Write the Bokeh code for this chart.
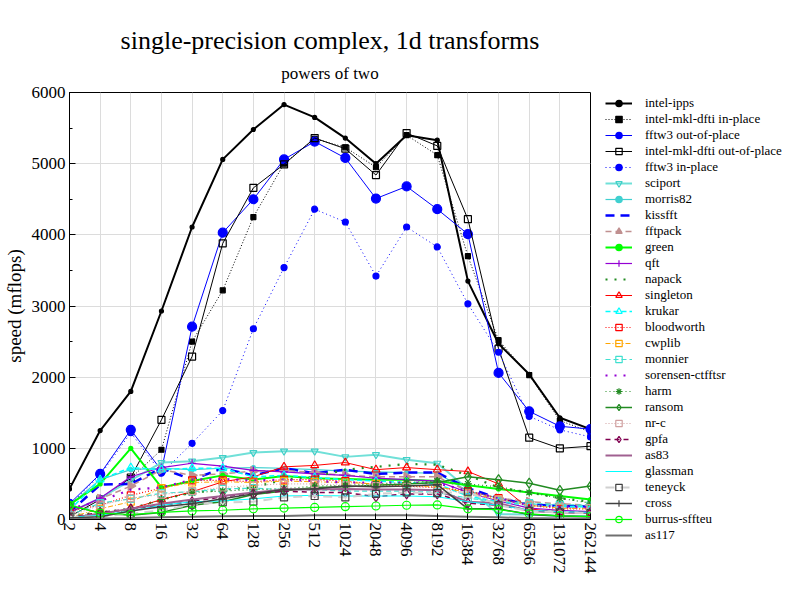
import math
from bokeh.plotting import figure
from bokeh.models import (Title, Legend, LegendItem, FixedTicker,
                          SingleIntervalTicker, PrintfTickFormatter, Range1d)
from bokeh.embed import file_html
from bokeh.resources import INLINE

# ---------------- data ----------------
sizes = [2, 4, 8, 16, 32, 64, 128, 256, 512, 1024, 2048, 4096, 8192,
         16384, 32768, 65536, 131072, 262144]

intel_ipps = [430, 1250, 1800, 2930, 4110, 5060, 5480, 5830, 5650, 5360, 5000, 5400, 5330, 3350, 2470, 2040, 1430, 1270]
mkl_inplace = [80, 300, 580, 980, 2500, 3220, 4250, 5000, 5350, 5230, 4950, 5400, 5120, 3700, 2520, 2030, 1390, 1230]
fftw3_out = [220, 640, 1260, 690, 2710, 4030, 4500, 5060, 5310, 5080, 4510, 4680, 4360, 4010, 2060, 1520, 1310, 1270]
mkl_outplace = [40, 280, 590, 1400, 2290, 3880, 4660, 4990, 5360, 5210, 4840, 5430, 5250, 4220, 2400, 1150, 1000, 1030]
fftw3_in = [200, 620, 1220, 650, 1070, 1530, 2680, 3540, 4360, 4180, 3420, 4110, 3830, 3030, 2350, 1450, 1260, 1160]
sciport = [100, 300, 550, 800, 820, 870, 940, 960, 960, 880, 910, 840, 790, 430, 75, 70, 50, 50]
morris82 = [200, 560, 700, 720, 700, 720, 730, 720, 700, 680, 670, 660, 650, 400, 300, 220, 200, 190]
kissfft = [100, 490, 500, 720, 560, 720, 620, 720, 650, 700, 640, 660, 660, 440, 300, 210, 190, 180]
fftpack = [100, 290, 470, 700, 620, 640, 680, 690, 660, 620, 600, 600, 600, 400, 300, 250, 220, 200]
green = [210, 500, 1000, 450, 540, 620, 560, 610, 580, 570, 560, 560, 540, 480, 430, 380, 330, 280]
qft = [100, 300, 600, 730, 790, 750, 690, 670, 640, 620, 580, 560, 540, 380, 260, 160, 130, 110]
napack = [50, 100, 150, 280, 380, 420, 450, 560, 600, 700, 740, 780, 770, 620, 450, 380, 300, 250]
singleton = [30, 80, 150, 280, 390, 530, 600, 740, 760, 800, 700, 730, 700, 675, 500, 150, 100, 90]
krukar = [130, 560, 730, 700, 720, 720, 600, 620, 590, 560, 540, 520, 500, 330, 250, 200, 180, 180]
bloodworth = [120, 200, 340, 440, 550, 550, 530, 560, 560, 540, 490, 470, 450, 400, 300, 200, 150, 150]
cwplib = [30, 150, 250, 440, 520, 530, 520, 540, 530, 520, 500, 480, 460, 380, 280, 200, 160, 150]
monnier = [60, 230, 290, 370, 390, 430, 440, 420, 420, 400, 400, 400, 380, 300, 250, 230, 210, 200]
sorensen = [150, 260, 420, 450, 560, 570, 550, 560, 540, 520, 520, 520, 510, 400, 300, 200, 180, 170]
harm = [50, 80, 130, 280, 380, 400, 420, 430, 470, 480, 500, 520, 540, 500, 460, 380, 300, 230]
ransom = [200, 90, 60, 100, 200, 250, 350, 400, 450, 460, 480, 500, 520, 600, 560, 510, 410, 470]
nr_c = [50, 200, 300, 350, 400, 450, 480, 500, 500, 480, 470, 460, 450, 350, 280, 200, 170, 160]
gpfa = [30, 100, 150, 200, 250, 320, 360, 400, 380, 380, 320, 360, 360, 230, 200, 130, 110, 100]
as83 = [20, 80, 150, 220, 280, 330, 380, 420, 420, 430, 420, 420, 410, 250, 230, 120, 100, 90]
glassman = [30, 60, 120, 200, 250, 260, 290, 330, 340, 330, 330, 330, 320, 250, 200, 130, 110, 100]
teneyck = [40, 40, 80, 130, 210, 240, 250, 310, 330, 310, 360, 380, 370, 390, 200, 120, 100, 90]
cross = [20, 40, 120, 180, 220, 290, 360, 420, 430, 470, 460, 470, 490, 150, 150, 70, 50, 40]
burrus = [200, 90, 70, 100, 120, 130, 150, 160, 170, 180, 190, 200, 205, 150, 140, 80, 50, 40]
as117 = [5, 15, 20, 30, 40, 45, 50, 50, 60, 60, 60, 60, 50, 40, 30, 20, 15, 15]

# (label, values, line color, line width, dash, marker, marker size, filled, marker color)
series = [
    ("intel-ipps", intel_ipps, "black", 2.0, "solid", "circle", 4, True, None),
    ("intel-mkl-dfti in-place", mkl_inplace, "black", 1.0, "1 2", "square", 5, True, None),
    ("fftw3 out-of-place", fftw3_out, "#0000ff", 1.0, "solid", "circle", 9, True, None),
    ("intel-mkl-dfti out-of-place", mkl_outplace, "black", 1.0, "solid", "square", 7, False, None),
    ("fftw3 in-place", fftw3_in, "#0000ff", 1.0, "1 3", "circle", 6, True, None),
    ("sciport", sciport, "#70e0d8", 2.0, "solid", "inverted_triangle", 7, False, "#40d0c8"),
    ("morris82", morris82, "#40d0d0", 1.2, "solid", "circle", 4, True, None),
    ("kissfft", kissfft, "#0000ff", 2.5, "9 6", None, 0, False, None),
    ("fftpack", fftpack, "#c09090", 1.5, "6 4", "triangle_r", 9, True, None),
    ("green", green, "#00ff00", 2.0, "solid", "circle", 4, True, None),
    ("qft", qft, "#9400d3", 1.2, "solid", "cross", 8, False, None),
    ("napack", napack, "#228b22", 2.2, "2 7", None, 0, False, None),
    ("singleton", singleton, "#ff0000", 1.0, "solid", "triangle", 8, False, None),
    ("krukar", krukar, "#00ffff", 1.5, "5 3", "triangle", 8, False, None),
    ("bloodworth", bloodworth, "#ff0000", 1.2, "1 2", "square", 7, False, None),
    ("cwplib", cwplib, "#ffa500", 1.0, "5 2 1 2", "square", 7, False, None),
    ("monnier", monnier, "#40e0d0", 1.2, "5 3", "square", 7, False, None),
    ("sorensen-ctfftsr", sorensen, "#9400d3", 2.2, "2 7", None, 0, False, None),
    ("harm", harm, "#228b22", 1.2, "1 3", "asterisk", 8, False, None),
    ("ransom", ransom, "#228b22", 1.5, "solid", "diamond", 10, False, None),
    ("nr-c", nr_c, "#d0a0a0", 1.0, "1 2", "square", 7, False, None),
    ("gpfa", gpfa, "#800050", 1.5, "5 4", "diamond", 10, False, None),
    ("as83", as83, "#a06090", 2.0, "solid", None, 0, False, None),
    ("glassman", glassman, "#00ffff", 1.0, "solid", None, 0, False, None),
    ("teneyck", teneyck, "#d0d0d0", 2.0, "9 6", "square", 7, False, "#404040"),
    ("cross", cross, "#404040", 1.5, "solid", "cross", 9, False, None),
    ("burrus-sffteu", burrus, "#00ff00", 1.2, "solid", "circle", 8, False, None),
    ("as117", as117, "#707070", 2.0, "solid", None, 0, False, None),
]

SERIF = "Liberation Serif"

p = figure(frame_width=521, frame_height=427,
           x_axis_type="log", x_range=Range1d(2, 262144), y_range=Range1d(0, 6000),
           output_backend="svg", toolbar_location=None, title=None,
           min_border_left=59, min_border_right=196, min_border_top=92, min_border_bottom=70)

p.background_fill_color = "white"
p.border_fill_color = "white"
p.outline_line_color = "black"
p.outline_line_width = 1
p.outline_line_alpha = 1

# titles (first added = closest to plot)
p.add_layout(Title(text="powers of two", align="center", text_font=SERIF,
                   text_font_size="17px", text_font_style="normal",
                   text_color="black", standoff=19), "above")
p.add_layout(Title(text="single-precision complex, 1d transforms", align="center",
                   text_font=SERIF, text_font_size="26px", text_font_style="normal",
                   text_color="black", standoff=-4), "above")

# axes
xa = p.xaxis[0]
xa.ticker = FixedTicker(ticks=sizes, minor_ticks=[])
xa.formatter = PrintfTickFormatter(format="%d")
xa.major_label_orientation = -math.pi / 2
xa.major_label_text_font = SERIF
xa.major_label_text_font_size = "17px"
xa.major_label_text_color = "black"
xa.major_label_standoff = 3
xa.major_tick_in = 6
xa.major_tick_out = 0
xa.axis_line_color = "black"
xa.major_tick_line_color = "black"

ya = p.yaxis[0]
ya.ticker = SingleIntervalTicker(interval=1000, num_minor_ticks=2)
ya.major_label_text_font = SERIF
ya.major_label_text_font_size = "17px"
ya.major_label_text_color = "black"
ya.major_label_standoff = 4
ya.major_tick_in = 6
ya.major_tick_out = 0
ya.minor_tick_in = 3
ya.minor_tick_out = 0
ya.axis_line_color = "black"
ya.major_tick_line_color = "black"
ya.minor_tick_line_color = "black"
ya.axis_label = "speed (mflops)"
ya.axis_label_text_font = SERIF
ya.axis_label_text_font_size = "19px"
ya.axis_label_text_font_style = "normal"
ya.axis_label_text_color = "black"
ya.axis_label_standoff = 4

p.xgrid.ticker = FixedTicker(ticks=sizes)
p.ygrid.ticker = SingleIntervalTicker(interval=1000)
p.xgrid.grid_line_color = "#dcdcdc"
p.ygrid.grid_line_color = "#dcdcdc"
p.xgrid.grid_line_width = 1
p.ygrid.grid_line_width = 1

items = []
for (label, vals, color, lw, dash, marker, msize, filled, mcolor) in series:
    rs = [p.line(sizes, vals, line_color=color, line_width=lw, line_dash=dash)]
    if marker is not None:
        mc = mcolor if mcolor else color
        kw = dict(size=msize, line_color=mc, line_width=1.2)
        kw["fill_color"] = mc if filled else None
        mk = marker
        if marker == "triangle_r":
            mk = "triangle"
            kw["angle"] = -math.pi / 2
        rs.append(p.scatter(sizes, vals, marker=mk, **kw))
    items.append(LegendItem(label=label, renderers=rs))

legend = Legend(items=items, location=(15, -24),
                label_text_font=SERIF, label_text_font_size="13px",
                label_text_color="black",
                glyph_width=27, glyph_height=16, label_height=16, spacing=0,
                padding=5, margin=0, label_standoff=13,
                border_line_color=None, background_fill_alpha=0)
p.add_layout(legend, "right")

open("out.html", "w").write(file_html(p, INLINE))
